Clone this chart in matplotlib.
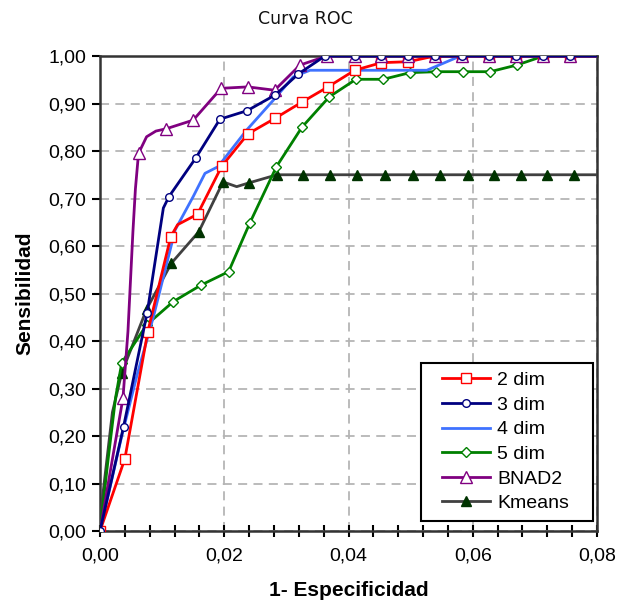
import matplotlib
matplotlib.use("Agg")
import matplotlib.pyplot as plt
from matplotlib.ticker import MultipleLocator, FuncFormatter
from matplotlib.legend_handler import HandlerLine2D

# --- data (x = 1 - especificidad, y = sensibilidad) ---
x_2dim = [0, 0.004, 0.0077, 0.0114, 0.0125, 0.0157, 0.0196, 0.0238, 0.0282, 0.0325, 0.0367,
          0.041, 0.0453, 0.0496, 0.0539, 0.0582, 0.0626, 0.067, 0.0713, 0.0757, 0.08]
y_2dim = [0, 0.152, 0.42, 0.62, 0.645, 0.667, 0.768, 0.836, 0.869, 0.903, 0.935,
          0.970, 0.986, 0.988, 1, 1, 1, 1, 1, 1, 1]
mk_2dim = [0, 1, 2, 3, 5, 6, 7, 8, 9, 10, 11, 12, 13, 14, 15, 16, 17, 18, 19]

x_3dim = [0, 0.0038, 0.0076, 0.0102, 0.0111, 0.0154, 0.0193, 0.0237, 0.0282, 0.0319, 0.0362,
          0.041, 0.0453, 0.0496, 0.0539, 0.0582, 0.0626, 0.067, 0.0713, 0.0757, 0.08]
y_3dim = [0, 0.22, 0.46, 0.68, 0.704, 0.785, 0.867, 0.885, 0.918, 0.962, 1,
          1, 1, 1, 1, 1, 1, 1, 1, 1, 1]
mk_3dim = [0, 1, 2, 4, 5, 6, 7, 8, 9, 10, 11, 12, 13, 14, 15, 16, 17, 18, 19]

x_4dim = [0, 0.0035, 0.006, 0.0086, 0.0121, 0.015, 0.0169, 0.019, 0.0236, 0.0279, 0.0311,
          0.0338, 0.0526, 0.058, 0.08]
y_4dim = [0, 0.2, 0.33, 0.451, 0.634, 0.704, 0.753, 0.767, 0.844, 0.907, 0.956,
          0.97, 0.97, 1.0, 1.0]

x_5dim = [0, 0.0013, 0.0025, 0.0035, 0.0075, 0.0118, 0.0163, 0.0207, 0.0241, 0.0284, 0.0325,
          0.0369, 0.0412, 0.0456, 0.0499, 0.0541, 0.0585, 0.0628, 0.0671, 0.0714, 0.0757, 0.08]
y_5dim = [0, 0.15, 0.28, 0.354, 0.434, 0.483, 0.518, 0.546, 0.648, 0.767, 0.85,
          0.914, 0.951, 0.951, 0.965, 0.967, 0.967, 0.967, 0.981, 1, 1, 1]
mk_5dim = [0, 3, 4, 5, 6, 7, 8, 9, 10, 11, 12, 13, 14, 15, 16, 17, 18, 19, 20]

x_bnad = [0, 0.0037, 0.0045, 0.0053, 0.0057, 0.0062, 0.0075, 0.009, 0.0107, 0.015, 0.0195,
          0.0238, 0.0281, 0.0322, 0.0365, 0.041, 0.0453, 0.0496, 0.0539, 0.0582, 0.0626,
          0.067, 0.0713, 0.0757, 0.08]
y_bnad = [0, 0.28, 0.42, 0.63, 0.72, 0.795, 0.83, 0.842, 0.847, 0.865, 0.932,
          0.935, 0.928, 0.981, 1, 1, 1, 1, 1, 1, 1,
          1, 1, 1, 1]
mk_bnad = [0, 1, 5, 8, 9, 10, 11, 12, 13, 14, 15, 16, 17, 18, 19, 20, 21, 22, 23]

x_kmeans = [0, 0.0004, 0.002, 0.0035, 0.0075, 0.0115, 0.0159, 0.0198, 0.022, 0.024, 0.0285,
            0.0327, 0.037, 0.0414, 0.0459, 0.0504, 0.0547, 0.0592, 0.0634, 0.0678, 0.072,
            0.0763, 0.08]
y_kmeans = [0, 0.07, 0.25, 0.333, 0.467, 0.564, 0.63, 0.735, 0.725, 0.733, 0.75,
            0.75, 0.75, 0.75, 0.75, 0.75, 0.75, 0.75, 0.75, 0.75, 0.75,
            0.75, 0.75]
mk_kmeans = [0, 3, 4, 5, 6, 7, 9, 10, 11, 12, 13, 14, 15, 16, 17, 18, 19, 20, 21]

plt.rcParams["font.family"] = ["Liberation Sans", "DejaVu Sans"]

fig = plt.figure(figsize=(6.23, 6.03), dpi=100)
ax = fig.add_axes([0.1605, 0.1194, 0.7978, 0.7877])

lw = 2.0
ax.plot(x_kmeans, y_kmeans, color="#404040", lw=lw, marker="^", markersize=7,
        markerfacecolor="#003300", markeredgecolor="#003300", markevery=mk_kmeans,
        label="Kmeans", zorder=3)
ax.plot(x_5dim, y_5dim, color="#008000", lw=lw, marker="D", markersize=5.5,
        markerfacecolor="white", markeredgecolor="#008000", markevery=mk_5dim,
        label="5 dim", zorder=4)
ax.plot(x_4dim, y_4dim, color="#3f72ff", lw=lw, label="4 dim", zorder=5)
ax.plot(x_2dim, y_2dim, color="#ff0000", lw=lw, marker="s", markersize=7,
        markerfacecolor="white", markeredgecolor="#ff0000", markevery=mk_2dim,
        label="2 dim", zorder=6)
ax.plot(x_bnad, y_bnad, color="#800080", lw=lw, marker="^", markersize=8,
        markerfacecolor="white", markeredgecolor="#800080", markevery=mk_bnad,
        label="BNAD2", zorder=7)
ax.plot(x_3dim, y_3dim, color="#000080", lw=lw, marker="o", markersize=5.5,
        markerfacecolor="white", markeredgecolor="#000080", markevery=mk_3dim,
        label="3 dim", zorder=8)

ax.set_xlim(0, 0.08)
ax.set_ylim(0, 1.0)
ax.xaxis.set_major_locator(MultipleLocator(0.02))
ax.xaxis.set_minor_locator(MultipleLocator(0.004))
ax.yaxis.set_major_locator(MultipleLocator(0.1))
fmt = FuncFormatter(lambda v, p: f"{v:.2f}".replace(".", ","))
ax.xaxis.set_major_formatter(fmt)
ax.yaxis.set_major_formatter(fmt)
ax.tick_params(axis="x", which="both", direction="inout", length=8, width=1.5,
               labelsize=14, pad=8)
ax.tick_params(axis="y", direction="out", length=6, width=1.5, labelsize=14, pad=4)

ax.grid(True, which="major", color="#b5b5b5", linestyle=(0, (5, 3.5)), linewidth=1.3)
ax.set_axisbelow(True)
for s in ax.spines.values():
    s.set_linewidth(1.8)
    s.set_color("#333333")

ax.set_xlabel("1- Especificidad", fontsize=15, fontweight="bold", labelpad=12)
ax.set_ylabel("Sensibilidad", fontsize=15, fontweight="bold", labelpad=10)
fig.text(0.49, 0.968, "Curva ROC", fontsize=12.5, color="#111111",
         family="DejaVu Sans", ha="center", va="center")

order = ["2 dim", "3 dim", "4 dim", "5 dim", "BNAD2", "Kmeans"]
h, l = ax.get_legend_handles_labels()
hd = dict(zip(l, h))
hmap = {hd[k]: HandlerLine2D(xpad=0.62) for k in order}
leg = ax.legend([hd[k] for k in order], order, loc="lower left",
                bbox_to_anchor=(0.646, 0.021, 0.346, 0.3), mode="expand",
                borderaxespad=0, fontsize=14, handler_map=hmap,
                frameon=True, fancybox=False, edgecolor="black", framealpha=1,
                handlelength=3.1, handletextpad=0.35, labelspacing=0.36,
                borderpad=0.45)
leg.get_frame().set_linewidth(1.5)

fig.savefig("out.png", dpi=100)
